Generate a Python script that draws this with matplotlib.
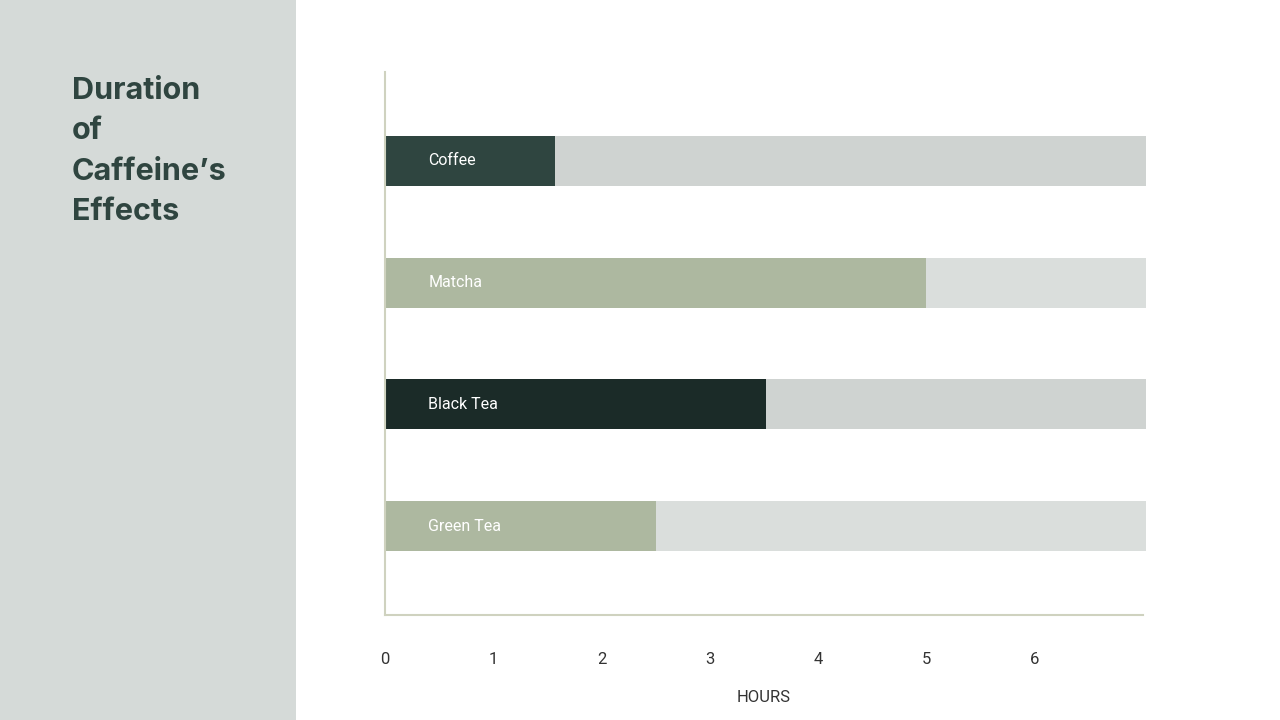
import matplotlib
matplotlib.use('agg')
import matplotlib.pyplot as plt
from matplotlib.patches import Rectangle

# data
drinks = ['Coffee', 'Matcha', 'Black Tea', 'Green Tea']
hours = [1.57, 5.0, 3.52, 2.5]
max_hours = 7
bar_colors = ['#2f4540', '#adb8a0', '#1b2b28', '#adb8a0']
bg_colors = ['#cfd3d1', '#dadedc', '#cfd3d1', '#dadedc']
ticks = [0, 1, 2, 3, 4, 5, 6]

fig = plt.figure(figsize=(12.8, 7.2), dpi=100)
fig.patch.set_facecolor('white')

# grey side panel
fig.patches.append(Rectangle((0, 0), 296 / 1280, 1, transform=fig.transFigure,
                             facecolor='#d5dad8', edgecolor='none', zorder=0))
fig.text(72 / 1280, 1 - 77 / 720, 'Duration\nof\nCaffeine\u2019s\nEffects',
         fontsize=22, fontweight='bold', family=['Inter', 'DejaVu Sans'],
         color='#2f4540', va='top', ha='left', linespacing=1.56)

ax = fig.add_axes([385 / 1280, 1 - 615 / 720, (1143 - 385) / 1280, (615 - 72) / 720])
ax.set_facecolor('none')

y = list(range(len(drinks)))[::-1]
ax.barh(y, [max_hours + 0.03] * len(drinks), height=0.41, color=bg_colors, zorder=1,
        clip_on=False)
ax.barh(y, hours, height=0.41, color=bar_colors, zorder=2)
for yi, name in zip(y, drinks):
    ax.text(0.4, yi, name, color='#ffffff', fontsize=11.5, va='center', ha='left',
            family=['Roboto', 'DejaVu Sans'], zorder=3)

ax.set_xlim(0, max_hours)
ax.set_ylim(-0.73, 3.73)
ax.set_yticks([])
ax.set_xticks(ticks)
ax.set_xticklabels([str(t) for t in ticks], fontsize=12, color='#333333',
                   family=['Roboto', 'DejaVu Sans'])
ax.tick_params(axis='x', length=0, pad=27)
ax.set_xlabel('HOURS', fontsize=12, color='#333333', family=['Roboto', 'DejaVu Sans'],
              labelpad=16)
for s in ['top', 'right']:
    ax.spines[s].set_visible(False)
for s in ['left', 'bottom']:
    ax.spines[s].set_color('#cfd2bf')
    ax.spines[s].set_linewidth(1.5)

plt.savefig('out.png', dpi=100)
